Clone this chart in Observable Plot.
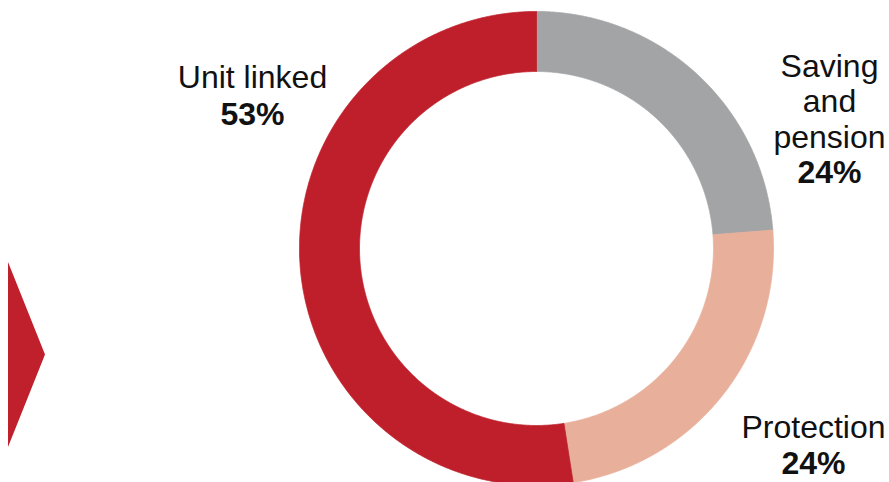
<!DOCTYPE html>
<html><head><meta charset="utf-8">
<script src="https://cdn.jsdelivr.net/npm/d3@7"></script>
<script src="https://cdn.jsdelivr.net/npm/@observablehq/plot@0.6"></script>
<style>
body{margin:0;background:#fff;}
#wrap{position:relative;width:889px;height:482px;overflow:hidden}
#chev{position:absolute;left:8px;top:262px;width:37px;height:185px;background:#C0202B;clip-path:polygon(0 0,100% 50%,0 100%)}
#plot{position:absolute;left:0;top:0}
</style></head><body><div id="wrap"><div id="chev"></div><div id="plot"></div></div>
<script>
// Data
const categories = ["Saving and pension", "Protection", "Unit linked"];
const labelLines = ["Saving\nand\npension", "Protection", "Unit linked"];
const shares = [24, 24, 53];
const pctLabels = ["24%", "24%", "53%"];
const colors = ["#A3A4A6", "#E8B09A", "#BE1F2B"];

// Layout (pixels)
const cx = 536, cy = 248, rOuter = 237, rInner = 177;
const labelX = [829, 813, 252];
const nameBaseline = [147, 437, 87];
const pctBaseline = [182, 473, 124];

const arcs = d3.pie().sort(null).value(d => d)(shares);
const pts = [];
arcs.forEach((a, i) => {
  const n = Math.max(8, Math.ceil((a.endAngle - a.startAngle) / 0.004));
  const ring = [];
  for (let k = 0; k <= n; k++) {
    const t = a.startAngle + (a.endAngle - a.startAngle) * k / n;
    ring.push([cx + rOuter * Math.sin(t), cy - rOuter * Math.cos(t)]);
  }
  for (let k = n; k >= 0; k--) {
    const t = a.startAngle + (a.endAngle - a.startAngle) * k / n;
    ring.push([cx + rInner * Math.sin(t), cy - rInner * Math.cos(t)]);
  }
  ring.push(ring[0]);
  ring.forEach(([x, y]) => pts.push({name: categories[i], x, y}));
});

const labelData = categories.map((c, i) => ({
  name: labelLines[i], pct: pctLabels[i], x: labelX[i], yn: nameBaseline[i], yp: pctBaseline[i]
}));

const chart = Plot.plot({
  width: 889, height: 482,
  margin: 0,
  x: {domain: [0, 889], range: [0, 889], axis: null},
  y: {domain: [0, 482], range: [0, 482], axis: null},
  color: {domain: categories, range: colors},
  style: {fontFamily: "'Liberation Sans', Arial, sans-serif", background: "transparent"},
  marks: [
    Plot.line(pts, {x: "x", y: "y", z: "name", fill: "name", stroke: "name", strokeWidth: 0.8, curve: "linear"}),
    Plot.text(labelData, {x: "x", y: "yn", text: "name", fontSize: 32, lineHeight: 1.1, lineAnchor: "bottom", textAnchor: "middle", fill: "#111"}),
    Plot.text(labelData, {x: "x", y: "yp", text: "pct", fontSize: 32, fontWeight: "bold", lineAnchor: "bottom", textAnchor: "middle", fill: "#111"})
  ]
});
document.getElementById("plot").appendChild(chart);
</script>
</body></html>
